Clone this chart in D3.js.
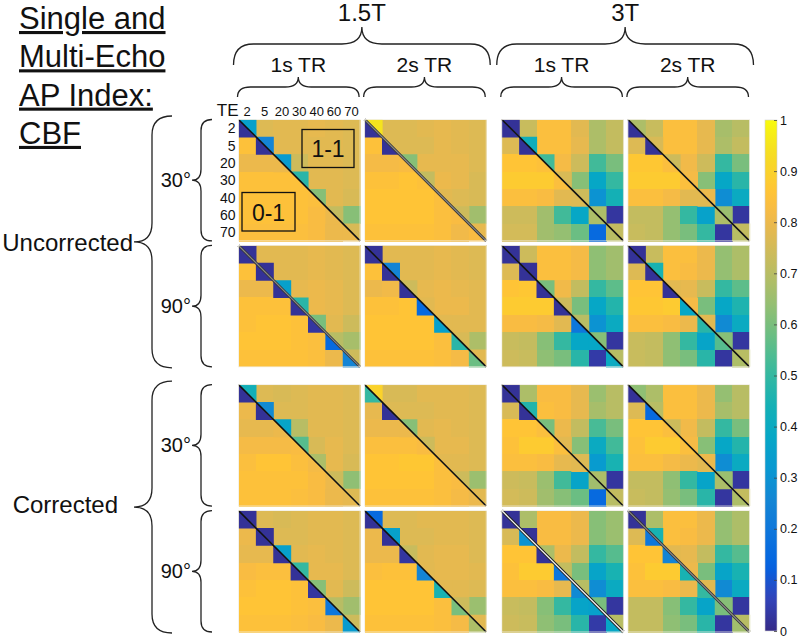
<!DOCTYPE html>
<html><head><meta charset="utf-8">
<script src="https://cdn.jsdelivr.net/npm/d3@7"></script>
<style>
body{margin:0;background:#fff}
svg{display:block}
text{font-family:"Liberation Sans",Arial,sans-serif;fill:#111}
</style>
</head><body>
<svg id="chart" width="800" height="638"></svg>
<script>
// ---------- categories ----------
const teLabels = ["2","5","20","30","40","60","70"];
const fields = ["1.5T","3T"];
const trs = ["1s TR","2s TR"];
const corrections = ["Uncorrected","Corrected"];
const angles = ["30°","90°"];
const colorbarTicks = [0,0.1,0.2,0.3,0.4,0.5,0.6,0.7,0.8,0.9,1];
const titleLines = ["Single and","Multi-Echo","AP Index:","CBF"];

// ---------- data: off-diagonal cells (upper = 1-1, lower = 0-1); diagonal entry = 0-1 triangle ----------
// and separate arrays for the 1-1 triangle of the diagonal cells
const unc30_15T_1s = [
 [0.02,0.77,0.78,0.78,0.79,0.78,0.77],
 [0.85,0.02,0.78,0.78,0.78,0.78,0.77],
 [0.80,0.80,0.80,0.74,0.78,0.78,0.77],
 [0.85,0.85,0.85,0.85,0.78,0.78,0.77],
 [0.85,0.85,0.85,0.85,0.84,0.78,0.76],
 [0.85,0.85,0.85,0.85,0.83,0.80,0.62],
 [0.84,0.84,0.84,0.84,0.83,0.80,0.80]];
const unc30_15T_1s_diag = [0.35,0.25,0.33,0.48,0.62,0.72,0.76];

const unc30_15T_2s = [
 [0.02,0.77,0.77,0.78,0.79,0.78,0.77],
 [0.85,0.02,0.77,0.77,0.79,0.78,0.77],
 [0.82,0.82,0.83,0.79,0.79,0.79,0.77],
 [0.85,0.85,0.86,0.85,0.80,0.79,0.76],
 [0.86,0.86,0.86,0.86,0.84,0.77,0.76],
 [0.86,0.86,0.86,0.86,0.84,0.83,0.66],
 [0.85,0.85,0.85,0.85,0.84,0.81,0.83]];
const unc30_15T_2s_diag = [0.95,0.77,0.62,0.72,0.78,0.74,0.79];

const unc30_3T_1s = [
 [0.02,0.73,0.84,0.84,0.78,0.68,0.72],
 [0.77,0.02,0.84,0.84,0.79,0.68,0.72],
 [0.86,0.86,0.85,0.82,0.74,0.52,0.60],
 [0.88,0.88,0.88,0.84,0.62,0.38,0.50],
 [0.84,0.84,0.83,0.78,0.77,0.30,0.44],
 [0.74,0.74,0.66,0.52,0.38,0.68,0.03],
 [0.75,0.75,0.66,0.64,0.58,0.15,0.70]];
const unc30_3T_1s_diag = [0.02,0.42,0.52,0.76,0.74,0.68,0.72];

const unc30_3T_2s = [
 [0.02,0.73,0.84,0.84,0.79,0.67,0.70],
 [0.77,0.02,0.84,0.84,0.79,0.68,0.72],
 [0.87,0.87,0.84,0.81,0.74,0.50,0.60],
 [0.88,0.88,0.88,0.84,0.62,0.38,0.48],
 [0.84,0.84,0.82,0.78,0.78,0.28,0.40],
 [0.72,0.72,0.64,0.50,0.36,0.68,0.03],
 [0.73,0.72,0.64,0.60,0.50,0.03,0.70]];
const unc30_3T_2s_diag = [0.68,0.76,0.74,0.82,0.80,0.65,0.72];

const unc90_15T_1s = [
 [0.02,0.78,0.78,0.78,0.79,0.78,0.77],
 [0.85,0.02,0.78,0.78,0.79,0.78,0.77],
 [0.80,0.80,0.02,0.79,0.80,0.79,0.77],
 [0.85,0.85,0.85,0.02,0.80,0.79,0.77],
 [0.85,0.86,0.86,0.85,0.03,0.78,0.74],
 [0.86,0.86,0.86,0.85,0.84,0.15,0.67],
 [0.85,0.85,0.85,0.85,0.84,0.80,0.25]];
const unc90_15T_1s_diag = [0.02,0.02,0.35,0.48,0.60,0.70,0.74];

const unc90_15T_2s = [
 [0.02,0.78,0.78,0.78,0.79,0.78,0.77],
 [0.85,0.02,0.78,0.78,0.79,0.78,0.77],
 [0.80,0.81,0.02,0.79,0.80,0.79,0.78],
 [0.85,0.85,0.86,0.15,0.80,0.80,0.78],
 [0.86,0.86,0.86,0.86,0.35,0.78,0.78],
 [0.86,0.86,0.86,0.86,0.84,0.48,0.68],
 [0.85,0.85,0.85,0.85,0.84,0.82,0.58]];
const unc90_15T_2s_diag = [0.02,0.25,0.74,0.78,0.78,0.76,0.78];

const unc90_3T_1s = [
 [0.02,0.74,0.84,0.84,0.82,0.63,0.66],
 [0.77,0.02,0.84,0.84,0.82,0.63,0.66],
 [0.86,0.87,0.02,0.81,0.72,0.50,0.56],
 [0.88,0.88,0.88,0.02,0.60,0.38,0.47],
 [0.83,0.83,0.82,0.78,0.20,0.30,0.40],
 [0.73,0.72,0.62,0.50,0.38,0.38,0.03],
 [0.74,0.73,0.63,0.60,0.48,0.04,0.40]];
const unc90_3T_1s_diag = [0.02,0.02,0.60,0.74,0.70,0.62,0.70];

const unc90_3T_2s = [
 [0.02,0.73,0.84,0.84,0.80,0.64,0.68],
 [0.77,0.02,0.84,0.83,0.80,0.64,0.68],
 [0.86,0.86,0.02,0.79,0.73,0.50,0.56],
 [0.87,0.87,0.88,0.38,0.60,0.38,0.46],
 [0.84,0.84,0.83,0.80,0.48,0.27,0.40],
 [0.73,0.72,0.63,0.50,0.37,0.55,0.03],
 [0.73,0.72,0.63,0.60,0.48,0.03,0.68]];
const unc90_3T_2s_diag = [0.02,0.45,0.78,0.82,0.78,0.62,0.70];

const cor30_15T_1s = [
 [0.02,0.77,0.76,0.77,0.78,0.78,0.77],
 [0.80,0.02,0.77,0.77,0.78,0.78,0.77],
 [0.79,0.79,0.80,0.70,0.78,0.78,0.77],
 [0.82,0.82,0.82,0.83,0.76,0.79,0.77],
 [0.84,0.86,0.86,0.84,0.82,0.79,0.76],
 [0.85,0.85,0.85,0.85,0.83,0.80,0.63],
 [0.85,0.85,0.85,0.84,0.83,0.80,0.79]];
const cor30_15T_1s_diag = [0.43,0.27,0.37,0.55,0.68,0.74,0.77];

const cor30_15T_2s = [
 [0.50,0.76,0.76,0.78,0.78,0.78,0.77],
 [0.79,0.02,0.77,0.77,0.78,0.78,0.77],
 [0.80,0.80,0.80,0.78,0.79,0.78,0.77],
 [0.84,0.84,0.84,0.83,0.79,0.79,0.77],
 [0.86,0.86,0.87,0.87,0.84,0.78,0.77],
 [0.86,0.86,0.86,0.86,0.84,0.83,0.65],
 [0.85,0.85,0.85,0.85,0.84,0.82,0.80]];
const cor30_15T_2s_diag = [0.90,0.77,0.62,0.74,0.78,0.74,0.78];

const cor30_3T_1s = [
 [0.02,0.68,0.83,0.83,0.79,0.65,0.70],
 [0.76,0.02,0.84,0.83,0.79,0.67,0.70],
 [0.86,0.86,0.84,0.80,0.72,0.53,0.60],
 [0.85,0.88,0.88,0.84,0.62,0.40,0.52],
 [0.84,0.84,0.83,0.79,0.78,0.33,0.45],
 [0.74,0.73,0.65,0.52,0.37,0.66,0.03],
 [0.75,0.74,0.66,0.62,0.58,0.15,0.70]];
const cor30_3T_1s_diag = [0.02,0.47,0.60,0.78,0.77,0.68,0.72];

const cor30_3T_2s = [
 [0.02,0.68,0.84,0.84,0.80,0.64,0.70],
 [0.77,0.15,0.84,0.84,0.80,0.67,0.70],
 [0.86,0.86,0.84,0.81,0.72,0.50,0.60],
 [0.85,0.88,0.88,0.84,0.62,0.38,0.47],
 [0.84,0.84,0.82,0.80,0.78,0.28,0.40],
 [0.72,0.72,0.63,0.50,0.37,0.68,0.03],
 [0.73,0.72,0.64,0.60,0.48,0.03,0.68]];
const cor30_3T_2s_diag = [0.63,0.70,0.74,0.82,0.80,0.65,0.72];

const cor90_15T_1s = [
 [0.02,0.77,0.76,0.77,0.78,0.78,0.77],
 [0.80,0.02,0.77,0.77,0.78,0.78,0.77],
 [0.79,0.79,0.02,0.78,0.79,0.78,0.77],
 [0.83,0.84,0.84,0.02,0.79,0.79,0.77],
 [0.85,0.86,0.86,0.85,0.03,0.78,0.74],
 [0.86,0.86,0.86,0.85,0.84,0.20,0.66],
 [0.85,0.85,0.85,0.84,0.83,0.80,0.33]];
const cor90_15T_1s_diag = [0.02,0.02,0.35,0.50,0.62,0.70,0.74];

const cor90_15T_2s = [
 [0.02,0.77,0.77,0.78,0.78,0.78,0.77],
 [0.80,0.02,0.77,0.77,0.78,0.78,0.77],
 [0.80,0.80,0.03,0.78,0.79,0.79,0.77],
 [0.84,0.85,0.85,0.25,0.79,0.79,0.78],
 [0.86,0.86,0.86,0.86,0.45,0.78,0.77],
 [0.86,0.86,0.86,0.86,0.84,0.60,0.65],
 [0.85,0.85,0.85,0.85,0.84,0.82,0.68]];
const cor90_15T_2s_diag = [0.15,0.35,0.73,0.78,0.78,0.74,0.78];

const cor90_3T_1s = [
 [0.02,0.68,0.83,0.83,0.80,0.62,0.65],
 [0.76,0.30,0.83,0.83,0.80,0.62,0.65],
 [0.86,0.86,0.02,0.80,0.72,0.50,0.55],
 [0.85,0.88,0.88,0.20,0.60,0.37,0.45],
 [0.84,0.84,0.83,0.79,0.27,0.28,0.40],
 [0.73,0.72,0.62,0.50,0.37,0.35,0.03],
 [0.74,0.73,0.63,0.60,0.48,0.04,0.38]];
const cor90_3T_1s_diag = [0.02,0.02,0.68,0.72,0.70,0.60,0.70];

const cor90_3T_2s = [
 [0.02,0.68,0.84,0.84,0.80,0.64,0.68],
 [0.77,0.20,0.84,0.83,0.80,0.64,0.68],
 [0.86,0.86,0.25,0.79,0.72,0.50,0.55],
 [0.85,0.88,0.88,0.45,0.60,0.37,0.45],
 [0.84,0.84,0.83,0.80,0.50,0.27,0.40],
 [0.72,0.72,0.62,0.50,0.37,0.60,0.03],
 [0.72,0.72,0.63,0.60,0.48,0.03,0.66]];
const cor90_3T_2s_diag = [0.02,0.45,0.78,0.80,0.78,0.62,0.70];

// ---------- panel table built from the named arrays ----------
const panels = [
 ["Uncorrected","30°","1.5T","1s TR",unc30_15T_1s,unc30_15T_1s_diag],
 ["Uncorrected","30°","1.5T","2s TR",unc30_15T_2s,unc30_15T_2s_diag],
 ["Uncorrected","30°","3T","1s TR",unc30_3T_1s,unc30_3T_1s_diag],
 ["Uncorrected","30°","3T","2s TR",unc30_3T_2s,unc30_3T_2s_diag],
 ["Uncorrected","90°","1.5T","1s TR",unc90_15T_1s,unc90_15T_1s_diag],
 ["Uncorrected","90°","1.5T","2s TR",unc90_15T_2s,unc90_15T_2s_diag],
 ["Uncorrected","90°","3T","1s TR",unc90_3T_1s,unc90_3T_1s_diag],
 ["Uncorrected","90°","3T","2s TR",unc90_3T_2s,unc90_3T_2s_diag],
 ["Corrected","30°","1.5T","1s TR",cor30_15T_1s,cor30_15T_1s_diag],
 ["Corrected","30°","1.5T","2s TR",cor30_15T_2s,cor30_15T_2s_diag],
 ["Corrected","30°","3T","1s TR",cor30_3T_1s,cor30_3T_1s_diag],
 ["Corrected","30°","3T","2s TR",cor30_3T_2s,cor30_3T_2s_diag],
 ["Corrected","90°","1.5T","1s TR",cor90_15T_1s,cor90_15T_1s_diag],
 ["Corrected","90°","1.5T","2s TR",cor90_15T_2s,cor90_15T_2s_diag],
 ["Corrected","90°","3T","1s TR",cor90_3T_1s,cor90_3T_1s_diag],
 ["Corrected","90°","3T","2s TR",cor90_3T_2s,cor90_3T_2s_diag]
].map(([corr,angle,field,tr,cells,diag]) => ({corr,angle,field,tr,cells,diag}));

// ---------- parula colormap ----------
const parulaPos = [0,4,8,12,16,20,24,28,32,36,40,42,44,46,48,50,52,54,56,58,60,63].map(i=>i/63);
const parulaCol = ["#352a87","#3243ba","#0363e1","#0d75dc","#1485d4","#0998d1","#06a7c6","#15b1b4",
  "#38b99e","#65be86","#92bf73","#a5be6b","#b7bd64","#c8bc5d","#d9ba56","#e9b94e","#f8bb44",
  "#ffc337","#fcce2e","#f7d826","#f5e41d","#f9fb0e"];
const color = d3.scaleLinear().domain(parulaPos).range(parulaCol).interpolate(d3.interpolateRgb).clamp(true);

// ---------- layout scales ----------
const svg = d3.select("#chart");
const fieldX = d3.scaleBand().domain(fields).range([238.5, 749.5]).paddingInner(0.059);
const trX = d3.scaleBand().domain(trs).range([0, fieldX.bandwidth()]).paddingInner(0.036);
const corrY = d3.scaleBand().domain(corrections).range([119.5, 632]).paddingInner(0.067);
const angleY = d3.scaleBand().domain(angles).range([0, corrY.bandwidth()]).paddingInner(0.036);
const px = p => fieldX(p.field) + trX(p.tr);
const py = p => corrY(p.corr) + angleY(p.angle);
const pw = trX.bandwidth(), ph = angleY.bandwidth();
const cx = d3.scaleBand().domain(teLabels).range([0, pw]);
const cy = d3.scaleBand().domain(teLabels).range([0, ph]);

// diagonal line styles (image appearance)
const lineStyle = {
  "Uncorrected|90°|1.5T|1s TR":"gray",
  "Uncorrected|30°|1.5T|2s TR":"gray",
  "Corrected|90°|3T|1s TR":"white",
  "Corrected|90°|3T|2s TR":"gray"
};

panels.forEach(p => {
  const g = svg.append("g").attr("transform", `translate(${px(p)},${py(p)})`);
  const offCells = [];
  p.cells.forEach((row,i) => row.forEach((v,j) => { if (i!==j) offCells.push({i,j,v}); }));
  g.selectAll("rect.cell").data(offCells).join("rect").attr("class","cell")
    .attr("x", d => cx(teLabels[d.j])).attr("y", d => cy(teLabels[d.i]))
    .attr("width", cx.bandwidth()+0.6).attr("height", cy.bandwidth()+0.6)
    .attr("fill", d => color(d.v)).attr("shape-rendering","crispEdges");
  const diagCells = teLabels.map((t,i) => ({i, lo:p.cells[i][i], up:p.diag[i]}));
  // lower-left triangle (0-1)
  g.selectAll("path.lo").data(diagCells).join("path").attr("class","lo")
    .attr("d", d => { const x0=cx(teLabels[d.i]), y0=cy(teLabels[d.i]), x1=x0+cx.bandwidth(), y1=y0+cy.bandwidth();
      return `M${x0},${y0}L${x0},${y1+0.6}L${x1},${y1+0.6}Z`; })
    .attr("fill", d => color(d.lo));
  // upper-right triangle (1-1)
  g.selectAll("path.up").data(diagCells).join("path").attr("class","up")
    .attr("d", d => { const x0=cx(teLabels[d.i]), y0=cy(teLabels[d.i]), x1=x0+cx.bandwidth(), y1=y0+cy.bandwidth();
      return `M${x0},${y0}L${x1+0.6},${y0}L${x1+0.6},${y1}Z`; })
    .attr("fill", d => color(d.up));
  const st = lineStyle[[p.corr,p.angle,p.field,p.tr].join("|")];
  if (st === "white") {
    g.append("line").attr("x1",0).attr("y1",0).attr("x2",pw).attr("y2",ph).attr("stroke","#222").attr("stroke-width",3.2);
    g.append("line").attr("x1",0).attr("y1",0).attr("x2",pw).attr("y2",ph).attr("stroke","#f4f4f4").attr("stroke-width",1.3);
  } else if (st === "gray") {
    g.append("line").attr("x1",0).attr("y1",0).attr("x2",pw).attr("y2",ph).attr("stroke","#333").attr("stroke-width",2.8);
    g.append("line").attr("x1",0).attr("y1",0).attr("x2",pw).attr("y2",ph).attr("stroke","#888").attr("stroke-width",1.2);
  } else {
    g.append("line").attr("x1",0).attr("y1",0).attr("x2",pw).attr("y2",ph).attr("stroke","#111").attr("stroke-width",1.6);
  }
  g.append("rect").attr("width",pw).attr("height",ph).attr("fill","none").attr("stroke","#f2efe4").attr("stroke-width",0.8);
});

// ---------- TE labels on first panel ----------
const p0 = panels[0];
const gl = svg.append("g").attr("transform", `translate(${px(p0)},${py(p0)})`);
gl.selectAll("text.col").data(teLabels).join("text").attr("class","col")
  .attr("x", d => cx(d)+cx.bandwidth()/2).attr("y", -4)
  .attr("text-anchor","middle").attr("font-size",13).text(d=>d);
gl.selectAll("text.row").data(teLabels).join("text").attr("class","row")
  .attr("x", -3).attr("y", d => cy(d)+cy.bandwidth()/2+5)
  .attr("text-anchor","end").attr("font-size",14).text(d=>d);
gl.append("text").attr("x",0).attr("y",-4).attr("text-anchor","end").attr("font-size",17).text("TE");
// annotation boxes
gl.append("rect").attr("x",63.5).attr("y",10).attr("width",52).attr("height",38).attr("fill","none").attr("stroke","#111").attr("stroke-width",1.3);
gl.append("text").attr("x",89.5).attr("y",37).attr("text-anchor","middle").attr("font-size",23).text("1-1");
gl.append("rect").attr("x",3.5).attr("y",73).attr("width",53).attr("height",38.5).attr("fill","none").attr("stroke","#111").attr("stroke-width",1.3);
gl.append("text").attr("x",30).attr("y",101.5).attr("text-anchor","middle").attr("font-size",23).text("0-1");

// ---------- braces ----------
function hBrace(x1,x2,yEnd,yMid,yTip,r){
  const xm=(x1+x2)/2;
  return `M${x1},${yEnd}Q${x1},${yMid} ${x1+r},${yMid}L${xm-r},${yMid}Q${xm},${yMid} ${xm},${yTip}Q${xm},${yMid} ${xm+r},${yMid}L${x2-r},${yMid}Q${x2},${yMid} ${x2},${yEnd}`;
}
function vBrace(y1,y2,xEnd,xMid,xTip,r){
  const ym=(y1+y2)/2;
  return `M${xEnd},${y1}Q${xMid},${y1} ${xMid},${y1+r}L${xMid},${ym-r}Q${xMid},${ym} ${xTip},${ym}Q${xMid},${ym} ${xMid},${ym+r}L${xMid},${y2-r}Q${xMid},${y2} ${xEnd},${y2}`;
}
const braceG = svg.append("g").attr("fill","none").attr("stroke","#222").attr("stroke-width",1.3);
fields.forEach(f => {
  const x1 = fieldX(f)-5, x2 = fieldX(f)+fieldX.bandwidth()+4;
  braceG.append("path").attr("d", hBrace(x1,x2,65,44,27,20));
  svg.append("text").attr("x",(x1+x2)/2).attr("y",21).attr("text-anchor","middle").attr("font-size",24).text(f);
  trs.forEach(t => {
    const a = fieldX(f)+trX(t)-1, b = a+trX.bandwidth();
    braceG.append("path").attr("d", hBrace(a,b,97,87,77,13));
    svg.append("text").attr("x",(a+b)/2).attr("y",72).attr("text-anchor","middle").attr("font-size",21).text(t);
  });
});
corrections.forEach(c => {
  const y1 = corrY(c)-3.5, y2 = corrY(c)+corrY.bandwidth()+1;
  braceG.append("path").attr("d", vBrace(y1,y2,172,152,134,19));
  angles.forEach(a => {
    const b1 = corrY(c)+angleY(a), b2 = b1+angleY.bandwidth();
    braceG.append("path").attr("d", vBrace(b1,b2,212,201,192,11));
    svg.append("text").attr("x",191).attr("y",(b1+b2)/2+7).attr("text-anchor","end").attr("font-size",20).text(a);
  });
});
svg.append("text").attr("x",133).attr("y",251).attr("text-anchor","end").attr("font-size",24).text(corrections[0]);
svg.append("text").attr("x",118).attr("y",513).attr("text-anchor","end").attr("font-size",24).text(corrections[1]);

// ---------- title ----------
svg.selectAll("text.title").data(titleLines).join("text").attr("class","title")
  .attr("x",19).attr("y",(d,i)=>29+i*38.3).attr("font-size",31)
  .style("text-decoration","underline").text(d=>d);

// ---------- colorbar ----------
const cbY = d3.scaleLinear().domain([0,1]).range([631,120]);
const defs = svg.append("defs");
const grad = defs.append("linearGradient").attr("id","cbgrad").attr("x1",0).attr("y1",1).attr("x2",0).attr("y2",0);
grad.selectAll("stop").data(d3.range(0,1.0001,0.02)).join("stop")
  .attr("offset",d=>d).attr("stop-color",d=>color(d));
svg.append("rect").attr("x",765).attr("y",cbY(1)).attr("width",12).attr("height",cbY(0)-cbY(1))
  .attr("fill","url(#cbgrad)").attr("stroke","#cfcfcf").attr("stroke-width",0.6);
const cbAxis = d3.axisRight(cbY).tickValues(colorbarTicks).tickSize(-3).tickPadding(3)
  .tickFormat(d => d===0 ? "0" : d===1 ? "1" : d.toFixed(1));
const ag = svg.append("g").attr("transform","translate(777,0)").call(cbAxis);
ag.select(".domain").remove();
ag.selectAll(".tick line").attr("stroke","#444").attr("stroke-width",0.8);
ag.selectAll(".tick text").attr("font-size",12.5).attr("font-family","Liberation Sans, Arial, sans-serif").attr("fill","#222");
</script>
</body></html>
